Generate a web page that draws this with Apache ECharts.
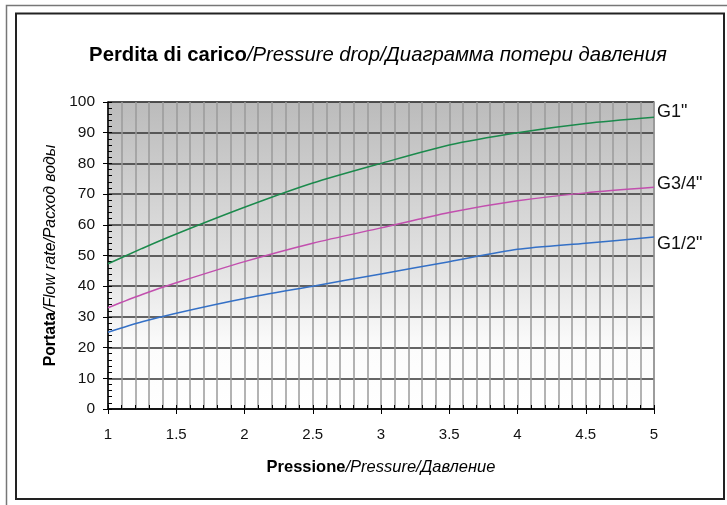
<!DOCTYPE html>
<html><head><meta charset="utf-8">
<script src="https://cdn.jsdelivr.net/npm/echarts@6/dist/echarts.min.js"></script>
<style>html,body{margin:0;padding:0;background:#fff}#c{width:727px;height:505px}</style>
</head><body><div id="c"></div>
<script>
const pressure = [1, 1.25, 1.5, 2, 2.5, 3, 3.5, 4, 4.5, 5];
const g1 = [47.3, 52.3, 57, 65.7, 73.6, 80, 86, 90, 93, 95];
const g34 = [33, 37.3, 41.1, 48, 54, 59, 64, 67.8, 70.4, 72.2];
const g12 = [25, 28.4, 31.2, 36, 40, 44, 48, 52, 54, 56];
const xTicks = [1, 1.5, 2, 2.5, 3, 3.5, 4, 4.5, 5];
const yTicks = [0, 10, 20, 30, 40, 50, 60, 70, 80, 90, 100];
const seriesNames = ['G1"', 'G3/4"', 'G1/2"'];

const FONT = '"Liberation Sans", Arial, sans-serif';
const pair = arr => pressure.map((p, i) => [p, arr[i]]);
const chart = echarts.init(document.getElementById('c'), null, {renderer: 'canvas'});
const mk = (name, data, color, dy) => ({
  name, type: 'line', data: pair(data), smooth: 0.25, symbol: 'none',
  lineStyle: {color, width: 1.5}, z: 5,
  endLabel: {show: true, formatter: name, color: '#111', fontFamily: FONT, fontSize: 18, offset: [-5, dy]}
});
const richName = size => ({
  b: {fontFamily: FONT, fontWeight: 'bold', fontSize: size, color: '#000'},
  i: {fontFamily: FONT, fontStyle: 'italic', fontWeight: 'normal', fontSize: size, color: '#000'}
});
chart.setOption({
  animation: false,
  title: {
    text: '{b|Perdita di carico}{i|/Pressure drop/Диаграмма потери давления}',
    left: 373, top: 40, textAlign: 'center',
    textStyle: {fontWeight: 'normal', rich: richName(20.3)}
  },
  graphic: [
    {type: 'rect', shape: {x: 6.5, y: 5.5, width: 740, height: 520}, style: {fill: null, stroke: '#777', lineWidth: 1.5}, silent: true},
    {type: 'rect', shape: {x: 16, y: 13.5, width: 708, height: 485.5}, style: {fill: null, stroke: '#222', lineWidth: 2}, silent: true}
  ],
  grid: {left: 108, right: 73, top: 102, bottom: 96, show: true,
    backgroundColor: {type: 'linear', x: 0, y: 0, x2: 0, y2: 1,
      colorStops: [{offset: 0, color: '#bbbbbb'}, {offset: 0.55, color: '#e4e4e4'}, {offset: 0.8, color: '#fcfcfc'}, {offset: 1, color: '#ffffff'}]},
    borderColor: '#888', borderWidth: 1.5},
  xAxis: [{
    type: 'value', min: 1, max: 5, interval: 0.5,
    name: '{b|Pressione}{i|/Pressure/Давление}', nameLocation: 'middle', nameGap: 50,
    nameTextStyle: {rich: richName(16.5)},
    axisLine: {show: true, lineStyle: {color: '#000', width: 1.5}},
    axisTick: {show: true, inside: false, length: 5, lineStyle: {color: '#000'}},
    minorTick: {show: true, splitNumber: 5, length: 0},
    axisLabel: {fontFamily: FONT, fontSize: 15, color: '#111', margin: 18,
      formatter: v => xTicks.includes(v) ? String(v) : ''},
    splitLine: {show: true, lineStyle: {color: '#9a9a9a', width: 1.5}},
    minorSplitLine: {show: true, lineStyle: {color: '#9a9a9a', width: 1.5}}
  }, {
    type: 'value', min: 1, max: 5, interval: 0.5, position: 'bottom',
    axisLine: {show: false},
    axisTick: {show: true, inside: true, length: 4, lineStyle: {color: '#000'}},
    minorTick: {show: true, splitNumber: 5, length: 4, lineStyle: {color: '#000'}},
    axisLabel: {show: false}, splitLine: {show: false}
  }],
  yAxis: [{
    type: 'value', min: 0, max: 100, interval: 10,
    name: '{b|Portata}{i|/Flow rate/Расход воды}', nameLocation: 'middle', nameGap: 45, nameRotate: 90,
    nameTextStyle: {rich: richName(15.8)},
    axisLine: {show: true, lineStyle: {color: '#000', width: 1.5}},
    axisTick: {show: true, inside: false, length: 5, lineStyle: {color: '#000'}},
    axisLabel: {fontFamily: FONT, fontSize: 15.5, color: '#111', margin: 13,
      formatter: v => yTicks.includes(v) ? String(v) : ''},
    splitLine: {show: true, lineStyle: {color: '#333', width: 1.5}}
  }, {
    type: 'value', min: 0, max: 100, interval: 10, position: 'left',
    axisLine: {show: false},
    axisTick: {show: true, inside: true, length: 4, lineStyle: {color: '#000'}},
    minorTick: {show: true, splitNumber: 5, length: 4, lineStyle: {color: '#000'}},
    axisLabel: {show: false}, splitLine: {show: false}
  }],
  series: [
    mk(seriesNames[0], g1, '#1b8a4c', -5),
    mk(seriesNames[1], g34, '#c24fae', -3),
    mk(seriesNames[2], g12, '#3470c6', 7)
  ]
});
</script></body></html>
